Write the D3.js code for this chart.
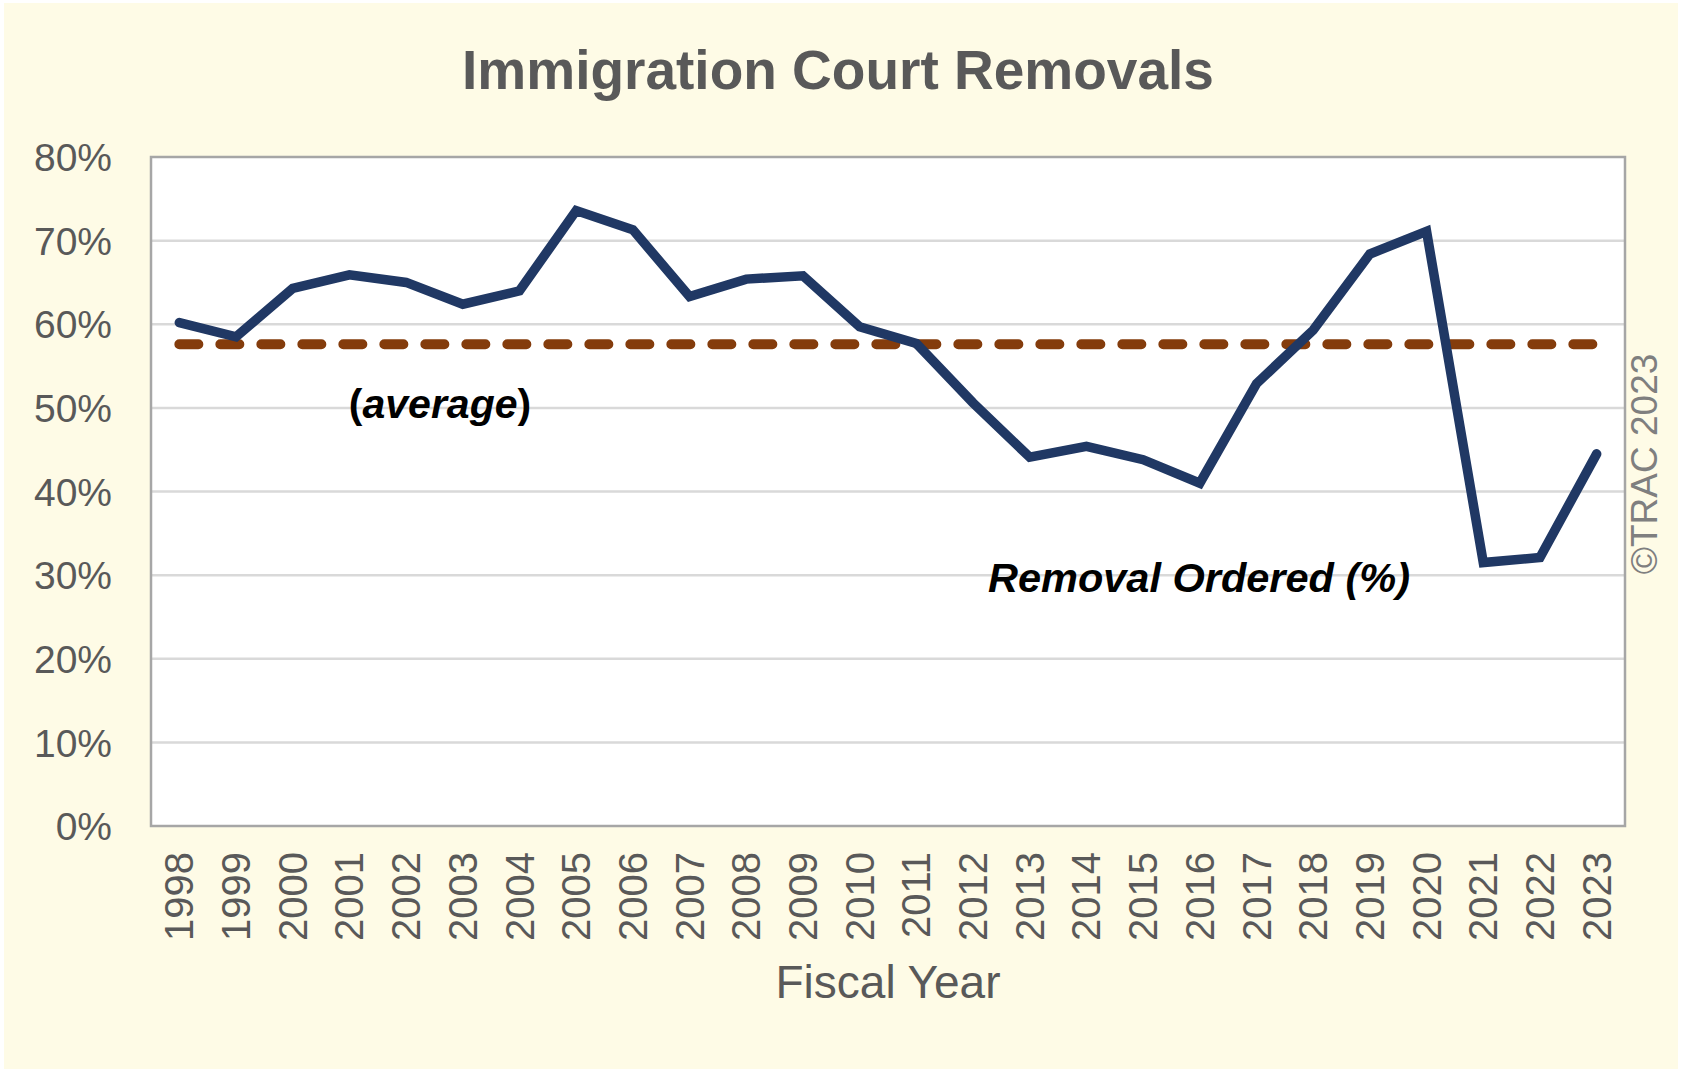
<!DOCTYPE html>
<html>
<head>
<meta charset="utf-8">
<script src="https://cdn.jsdelivr.net/npm/d3@7"></script>
<style>
  html, body { margin: 0; padding: 0; background: #ffffff; }
  svg { display: block; }
  text { font-family: "Liberation Sans", Arial, Helvetica, sans-serif; }
</style>
</head>
<body>
<svg id="chart" width="1682" height="1072"></svg>
<script>
const years = ["1998","1999","2000","2001","2002","2003","2004","2005","2006","2007","2008","2009","2010","2011","2012","2013","2014","2015","2016","2017","2018","2019","2020","2021","2022","2023"];
const removalPct = [60.2, 58.5, 64.3, 65.9, 65.0, 62.4, 64.0, 73.6, 71.3, 63.3, 65.4, 65.8, 59.7, 57.7, 50.6, 44.1, 45.4, 43.8, 41.0, 52.9, 59.3, 68.4, 71.1, 31.5, 32.1, 44.5];
const averagePct = 57.6;
const yTicks = [0, 10, 20, 30, 40, 50, 60, 70, 80];
const titleText = "Immigration Court Removals";
const xTitle = "Fiscal Year";
const seriesLabel = "Removal Ordered (%)";
const avgLabel = "average";
const credit = "\u00A9TRAC 2023";

const W = 1682, H = 1072;
const plot = { left: 151, right: 1625, top: 157, bottom: 826 };
const svg = d3.select("#chart");

// background
svg.append("rect").attr("x", 0).attr("y", 0).attr("width", W).attr("height", H).attr("fill", "#ffffff");
svg.append("rect").attr("x", 4).attr("y", 3).attr("width", W - 8).attr("height", H - 6).attr("fill", "#FEFBE6");

const x = d3.scaleBand().domain(years).range([plot.left, plot.right]).padding(0);
const xc = d => x(d) + x.bandwidth() / 2;
const y = d3.scaleLinear().domain([0, 80]).range([plot.bottom, plot.top]);

// plot area
svg.append("rect").attr("x", plot.left).attr("y", plot.top)
  .attr("width", plot.right - plot.left).attr("height", plot.bottom - plot.top)
  .attr("fill", "#ffffff");

// gridlines
svg.append("g").selectAll("line").data(yTicks.filter(t => t > 0 && t < 80)).join("line")
  .attr("x1", plot.left).attr("x2", plot.right)
  .attr("y1", d => y(d)).attr("y2", d => y(d))
  .attr("stroke", "#D9D9D9").attr("stroke-width", 2.5);

// border
svg.append("rect").attr("x", plot.left).attr("y", plot.top)
  .attr("width", plot.right - plot.left).attr("height", plot.bottom - plot.top)
  .attr("fill", "none").attr("stroke", "#A6A6A6").attr("stroke-width", 2.5);

// y axis labels
const yAxis = d3.axisLeft(y).tickValues(yTicks).tickSize(0).tickPadding(0).tickFormat(d => d + "%");
const yg = svg.append("g").attr("transform", `translate(${112},0)`).call(yAxis);
yg.select(".domain").remove();
yg.selectAll("text").attr("font-size", 39).attr("fill", "#595959")
  .attr("font-family", "'Liberation Sans', Arial, sans-serif").attr("dy", "0.35em");

// x axis labels
const xAxis = d3.axisBottom(x).tickSize(0).tickPadding(0);
const xg = svg.append("g").attr("transform", `translate(0,${plot.bottom})`).call(xAxis);
xg.select(".domain").remove();
xg.selectAll("text")
  .attr("font-size", 40).attr("fill", "#595959")
  .attr("font-family", "'Liberation Sans', Arial, sans-serif")
  .attr("text-anchor", "end")
  .attr("dy", null)
  .attr("dominant-baseline", "central")
  .attr("transform", "translate(0,26) rotate(-90)")
  .attr("x", 0).attr("y", 0);

// average dashed line
svg.append("line")
  .attr("x1", xc(years[0])).attr("x2", xc(years[years.length - 1]))
  .attr("y1", y(averagePct)).attr("y2", y(averagePct))
  .attr("stroke", "#843C0C").attr("stroke-width", 10)
  .attr("stroke-linecap", "round").attr("stroke-dasharray", "19,22");

// main line
const line = d3.line().x((d, i) => xc(years[i])).y(d => y(d));
svg.append("path").datum(removalPct)
  .attr("d", line).attr("fill", "none")
  .attr("stroke", "#203864").attr("stroke-width", 9.5)
  .attr("stroke-linejoin", "miter").attr("stroke-linecap", "round");

// title
svg.append("text").attr("x", 838).attr("y", 89).attr("text-anchor", "middle")
  .attr("font-size", 55).attr("font-weight", "bold").attr("fill", "#595959")
  .text(titleText);

// x title
svg.append("text").attr("x", 888).attr("y", 998).attr("text-anchor", "middle")
  .attr("font-size", 46).attr("fill", "#595959").text(xTitle);

// annotations
const avg = svg.append("text").attr("x", 440).attr("y", 418).attr("text-anchor", "middle")
  .attr("font-size", 41).attr("font-weight", "bold").attr("fill", "#000000");
avg.append("tspan").text("(");
avg.append("tspan").attr("font-style", "italic").text(avgLabel);
avg.append("tspan").text(")");

svg.append("text").attr("x", 1199).attr("y", 592).attr("text-anchor", "middle")
  .attr("font-size", 41.5).attr("font-weight", "bold").attr("font-style", "italic")
  .attr("fill", "#000000").text(seriesLabel);

// credit
svg.append("text").attr("transform", "translate(1644,464) rotate(-90)")
  .attr("text-anchor", "middle").attr("dominant-baseline", "central")
  .attr("font-size", 37).attr("fill", "#7F7F7F").text(credit);
</script>
</body>
</html>
